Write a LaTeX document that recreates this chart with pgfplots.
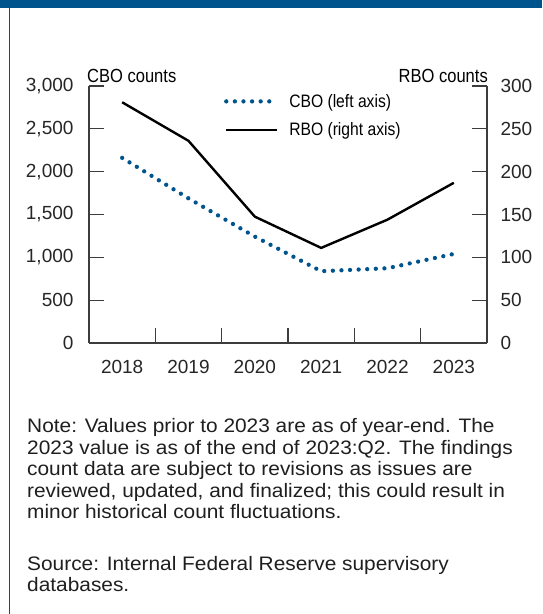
\documentclass[border=0pt]{standalone}
\usepackage{fontspec}
\setmainfont{Liberation Sans}
\newfontfamily\narrowfont[FakeStretch=0.87]{Liberation Sans}
\newfontfamily\widefont[FakeStretch=1.07]{Liberation Sans}
\usepackage{pgfplots}
\pgfplotsset{compat=1.18}
\definecolor{fedblue}{RGB}{0,84,142}
\definecolor{axisgray}{RGB}{60,60,60}

\pgfplotstableread{
idx cbo rbo
0 2161 281
1 1688 236
2 1242 147.5
3 838 111
4 873 144
5 1040 187
}\findings

\pgfplotsset{
  findings/.style={
    scale only axis,
    width=398pt, height=257pt,
    at={(89pt,271pt)}, anchor=south west,
    xmin=-0.5, xmax=5.5,
    ymin=0,
    tick align=inside,
    major tick length=15pt,
    every tick/.style={axisgray, line width=1.2pt},
    axis line style={axisgray, line width=1.2pt},
    /pgf/number format/assume math mode=true,
    /pgf/number format/1000 sep={,},
    tick label style={font=\fontsize{19}{22}\selectfont, text=black!85},
    clip=false,
  }
}

\begin{document}
\begin{tikzpicture}
\useasboundingbox (0,0) rectangle (542pt,614pt);
\fill[fedblue] (0,606pt) rectangle (542pt,614pt);
\draw[fedblue, line width=1.8pt] (9.5pt,0) -- (9.5pt,606pt);

% left axis: CBO
\begin{axis}[findings,
    ymax=3000,
    axis x line*=bottom, axis y line*=left,
    xtick={-0.5,0.5,1.5,2.5,3.5,4.5,5.5},
    x tick label as interval,
    xticklabels={2018,2019,2020,2021,2022,2023},
    xticklabel style={yshift=-14pt},
    ytick={0,500,...,3000},
    yticklabel style={xshift=-12pt},
    legend style={draw=none, fill=none, at={(0.339,0.977)}, anchor=north west,
      font=\narrowfont\fontsize{18}{21}\selectfont, row sep=10pt,
      inner sep=0pt, legend cell align=left},
    legend image code/.code={\draw[#1] (0pt,0pt) -- (51pt,0pt);
      \path[draw=none, fill=none] (0pt,0pt) -- (61pt,0pt);},
]
\addplot[fedblue, line width=4.3pt, line cap=round,
  dash pattern=on 0pt off 8.6pt] table[x=idx, y=cbo] {\findings};
\addlegendentry{CBO (left axis)}
\addlegendimage{black, line width=2.4pt}
\addlegendentry{RBO (right axis)}
\end{axis}

% right axis: RBO
\begin{axis}[findings,
    ymax=300,
    axis x line=none, axis y line*=right,
    xtick=\empty,
    ytick={0,50,...,300},
    yticklabel style={xshift=10pt},
]
\addplot[black, line width=2.4pt] table[x=idx, y=rbo] {\findings};
\end{axis}

\node[anchor=base west, inner sep=0pt, font=\narrowfont\fontsize{19}{22}\selectfont]
  at (87pt,531pt) {CBO counts};
\node[anchor=base east, inner sep=0pt, font=\narrowfont\fontsize{19}{22}\selectfont]
  at (488pt,531pt) {RBO counts};

% the base of a node with several lines is its last line
\node[anchor=base west, inner sep=0pt, align=left, text=black!88,
  font=\widefont\fontsize{19.5}{21.5}\selectfont] at (27pt,95pt)
  {Note: Values prior to 2023 are as of year-end. The\\
   2023 value is as of the end of 2023:Q2. The findings\\
   count data are subject to revisions as issues are\\
   reviewed, updated, and finalized; this could result in\\
   minor historical count fluctuations.};
\node[anchor=base west, inner sep=0pt, align=left, text=black!88,
  font=\widefont\fontsize{19.5}{21}\selectfont] at (27pt,23pt)
  {Source: Internal Federal Reserve supervisory\\
   databases.};
\end{tikzpicture}
\end{document}
